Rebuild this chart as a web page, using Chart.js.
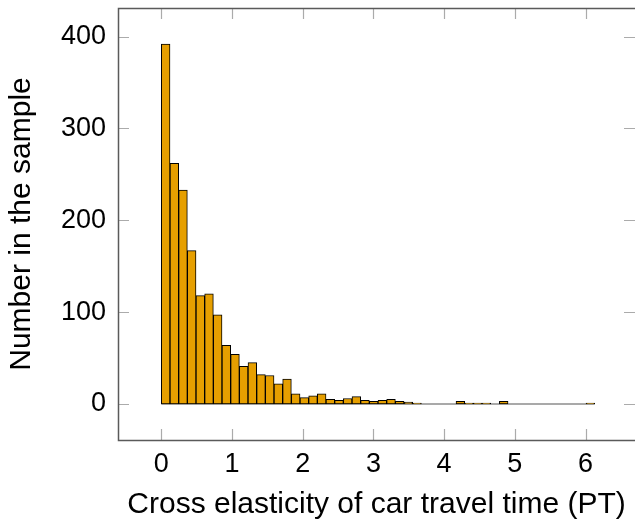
<!DOCTYPE html>
<html><head><meta charset="utf-8">
<script src="https://cdn.jsdelivr.net/npm/chart.js@4/dist/chart.umd.min.js"></script>
<style>html,body{margin:0;padding:0;background:#fff;}#wrap{width:635px;height:524px;}</style>
</head><body><div id="wrap"><canvas id="c" width="635" height="524"></canvas></div>
<script>
// Histogram bins (left edge of first bin and bin width) and counts per bin
const binStart = 0;
const binWidth = 0.1226;
const counts = [392,262,233,167,118,120,97,64,54,41,45,32,31,22,27,11,7,9,11,5,4,6,8,4,3,4,5,3,2,1,0,0,0,0,3,1,1,1,0,3,0,0,0,0,0,0,0,0,0,1];
const xTickLabels = [0,1,2,3,4,5,6];
const yTickLabels = [0,100,200,300,400];
const xLabel = 'Cross elasticity of car travel time (PT)';
const yLabel = 'Number in the sample';

const FONT = "'Liberation Sans', Arial, sans-serif";
const xMin = -0.613, xMax = 6.70, yMin = -39.2, yMax = 431.2;

const barData = counts.map((c, i) => ({x: binStart + (i + 0.5) * binWidth, y: c}));
const baseData = [{x: binStart, y: 0}, {x: binStart + counts.length * binWidth, y: 0}];

const frame = {
  id: 'frame',
  afterDatasetsDraw(chart) {
    const {ctx, chartArea: a, scales: {x, y}} = chart;
    ctx.save();
    const L = 11;
    ctx.lineWidth = 1.2;
    ctx.strokeStyle = '#ababab';
    ctx.beginPath();
    xTickLabels.forEach(v => {
      const px = Math.round(x.getPixelForValue(v)) + 0.5;
      ctx.moveTo(px, a.bottom); ctx.lineTo(px, a.bottom - L);
      ctx.moveTo(px, a.top); ctx.lineTo(px, a.top + L);
    });
    yTickLabels.forEach(v => {
      const py = Math.round(y.getPixelForValue(v)) + 0.5;
      ctx.moveTo(a.left, py); ctx.lineTo(a.left + L, py);
      ctx.moveTo(a.right, py); ctx.lineTo(a.right - L, py);
    });
    ctx.stroke();
    ctx.lineWidth = 1.5;
    ctx.strokeStyle = '#5a5a5a';
    ctx.beginPath();
    ctx.moveTo(a.right + 2, a.top + 0.5);
    ctx.lineTo(a.left + 0.5, a.top + 0.5);
    ctx.lineTo(a.left + 0.5, a.bottom + 0.5);
    ctx.lineTo(a.right + 2, a.bottom + 0.5);
    ctx.stroke();
    ctx.restore();
  }
};

new Chart(document.getElementById('c'), {
  data: {
    datasets: [
      {type: 'line', data: baseData, borderColor: '#8c8c8c', borderWidth: 1.5, pointRadius: 0, order: 2},
      {type: 'bar', data: barData, backgroundColor: '#E69F00', borderColor: '#000000', borderWidth: 1,
       borderSkipped: false, barPercentage: 1, categoryPercentage: 1, order: 1}
    ]
  },
  options: {
    responsive: false,
    animation: false,
    devicePixelRatio: 1,
    layout: {padding: {top: 8, right: 0, left: 0, bottom: 0}},
    plugins: {legend: {display: false}, tooltip: {enabled: false}},
    scales: {
      x: {
        type: 'linear', min: xMin, max: xMax, offset: false,
        grid: {display: false, drawTicks: false}, border: {display: false},
        ticks: {autoSkip: false, maxRotation: 0, color: '#000', padding: 8, font: {family: FONT, size: 27}},
        afterBuildTicks: s => { s.ticks = xTickLabels.map(v => ({value: v})); },
        afterFit: s => { s.height = 84; s.paddingLeft = 0; s.paddingRight = 0; },
        title: {display: true, text: xLabel, color: '#000', font: {family: FONT, size: 30}, padding: {top: 0, bottom: 1}}
      },
      y: {
        type: 'linear', min: yMin, max: yMax,
        grid: {display: false, drawTicks: false}, border: {display: false},
        ticks: {color: '#000', padding: 12, font: {family: FONT, size: 27}},
        afterBuildTicks: s => { s.ticks = yTickLabels.map(v => ({value: v})); },
        afterFit: s => { s.width = 118; s.paddingTop = 0; s.paddingBottom = 0; },
        title: {display: true, text: yLabel, color: '#000', font: {family: FONT, size: 30}, padding: {top: 4, bottom: 0}}
      }
    }
  },
  plugins: [frame]
});
</script></body></html>
